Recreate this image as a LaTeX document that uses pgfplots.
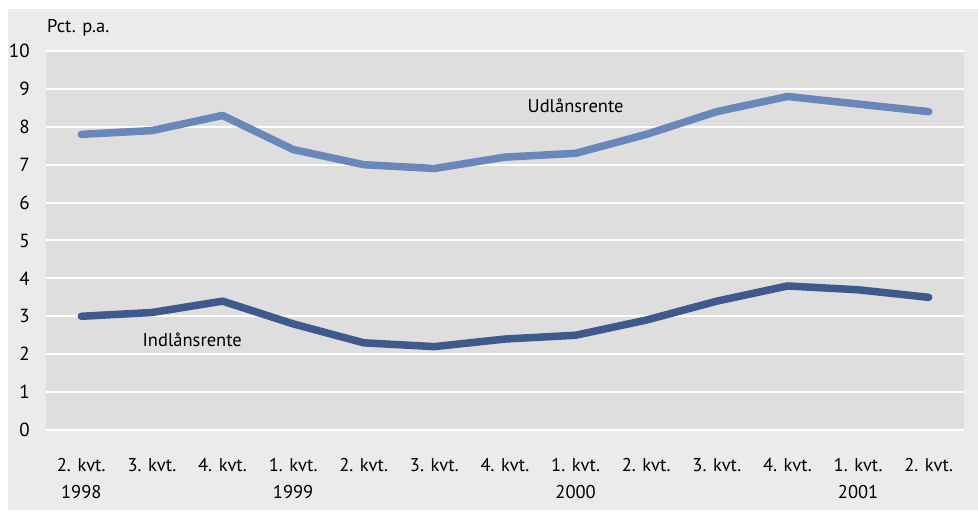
\documentclass[border=0pt]{standalone}
\usepackage{pgfplots}
\pgfplotsset{compat=1.18}
\usepackage{fontspec}
\setmainfont{PT Sans}
\definecolor{outerbg}{HTML}{EBEBEB}
\definecolor{plotbg}{HTML}{DEDEDE}
\definecolor{udl}{HTML}{6A87BA}
\definecolor{indl}{HTML}{3E5A8C}
\begin{document}
\fontsize{18.5bp}{27bp}\selectfont
\begin{tikzpicture}
\fill[outerbg] (-38bp,-80bp) rectangle (932bp,421bp);
\begin{axis}[
  at={(0,0)}, anchor=south west,
  scale only axis, width=918bp, height=379bp,
  xmin=-0.5, xmax=12.5, ymin=0, ymax=10,
  axis line style={draw=none},
  axis background/.style={fill=plotbg},
  ymajorgrids, grid style={white, line width=2bp},
  major tick length=0pt,
  ytick={0,1,...,10},
  xtick={0,1,...,12},
  xticklabels={{2. kvt.\\1998},{3. kvt.},{4. kvt.},{1. kvt.\\1999},{2. kvt.},{3. kvt.},{4. kvt.},{1. kvt.\\2000},{2. kvt.},{3. kvt.},{4. kvt.},{1. kvt.\\2001},{2. kvt.}},
  x tick label style={align=center, anchor=north, yshift=-22bp, font=\fontsize{18.5bp}{27bp}\selectfont},
  y tick label style={anchor=east, xshift=-10bp, font=\fontsize{19bp}{27bp}\selectfont},
  /pgf/number format/assume math mode=true,
  clip=false,
]
\addplot[udl, line width=7.5bp, line cap=round, line join=round] coordinates {
 (0,7.8) (1,7.9) (2,8.3) (3,7.4) (4,7.0) (5,6.9) (6,7.2) (7,7.3) (8,7.8) (9,8.4) (10,8.8) (11,8.6) (12,8.4)};
\addplot[indl, line width=7.5bp, line cap=round, line join=round] coordinates {
 (0,3.0) (1,3.1) (2,3.4) (3,2.8) (4,2.3) (5,2.2) (6,2.4) (7,2.5) (8,2.9) (9,3.4) (10,3.8) (11,3.7) (12,3.5)};
\node at (axis cs:7,8.55) {Udlånsrente};
\node at (axis cs:1.57,2.37) {Indlånsrente};
\node[anchor=base west, inner sep=0pt] at ([xshift=1bp,yshift=18bp]rel axis cs:0,1) {Pct. p.a.};
\end{axis}
\pgfresetboundingbox
\path (-46bp,-81bp) rectangle (932bp,430bp);
\end{tikzpicture}
\end{document}
